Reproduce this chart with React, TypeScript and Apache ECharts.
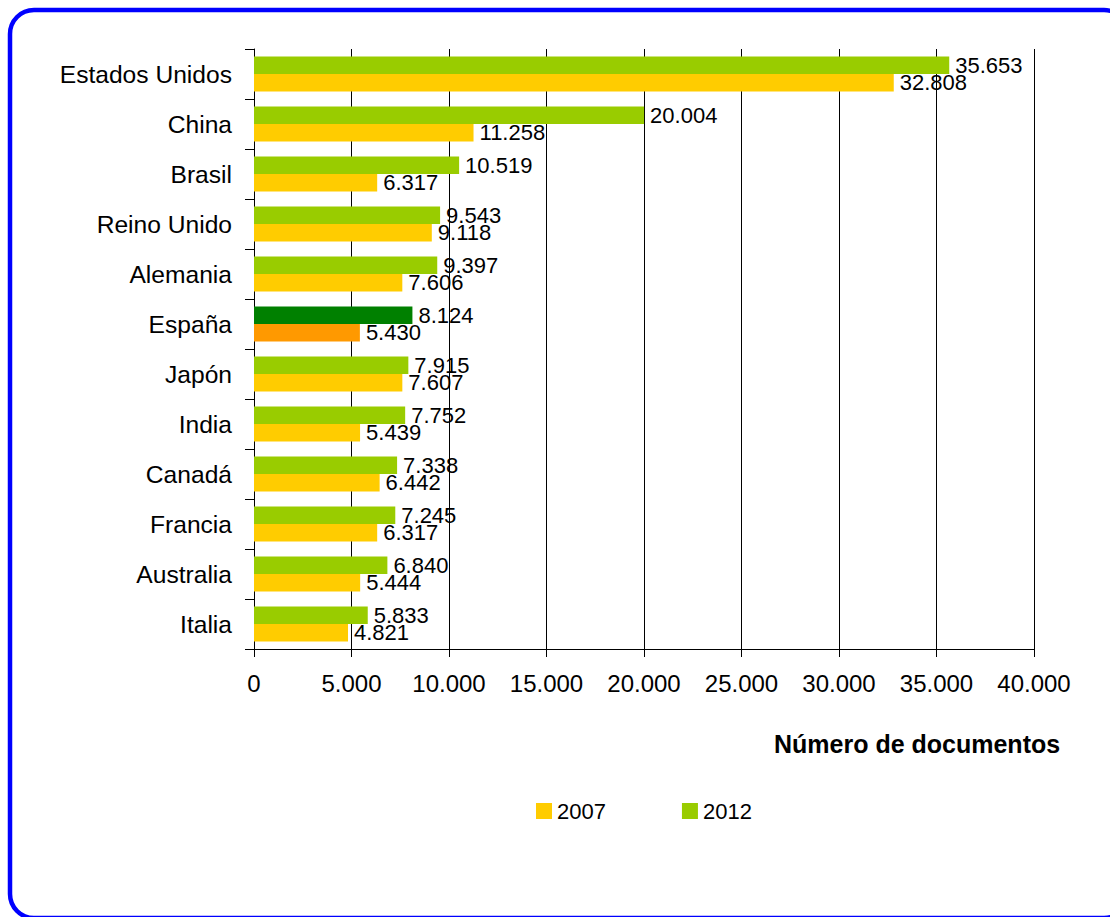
import React, { useEffect, useRef } from "react";
import * as echarts from "echarts";

const categories = [
  "Estados Unidos",
  "China",
  "Brasil",
  "Reino Unido",
  "Alemania",
  "España",
  "Japón",
  "India",
  "Canadá",
  "Francia",
  "Australia",
  "Italia",
];
const values2012 = [35653, 20004, 10519, 9543, 9397, 8124, 7915, 7752, 7338, 7245, 6840, 5833];
const values2007 = [32808, 11258, 6317, 9118, 7606, 5430, 7607, 5439, 6442, 6317, 5444, 4821];
const seriesNames = ["2007", "2012"];
const highlightCategory = "España";
const axisTitle = "Número de documentos";

const FONT = "'Liberation Sans', Arial, Helvetica, sans-serif";

const fmt = (v: number) => String(v).replace(/\B(?=(\d{3})+(?!\d))/g, ".");

export default function App() {
  const ref = useRef<HTMLDivElement>(null);
  useEffect(() => {
    document.body.style.margin = "0";
    if (!ref.current) return;
    const chart = echarts.init(ref.current, undefined, { renderer: "svg" });
    const hi = categories.indexOf(highlightCategory);
    const mk = (vals: number[], hiColor: string) =>
      vals.map((v, i) => (i === hi ? { value: v, itemStyle: { color: hiColor } } : v));
    const label = {
      show: true,
      position: "right",
      distance: 6,
      color: "#000",
      fontSize: 22,
      fontFamily: FONT,
      formatter: (p: any) => fmt(p.value),
    };
    chart.setOption({
      animation: false,
      backgroundColor: "#fff",
      textStyle: { fontFamily: FONT },
      title: {
        text: axisTitle,
        left: 774,
        top: 731,
        padding: 0,
        textStyle: { fontSize: 25, fontWeight: "bold", color: "#000", fontFamily: FONT },
      },
      legend: {
        data: seriesNames,
        left: 536,
        top: 800,
        padding: 0,
        icon: "rect",
        itemWidth: 16,
        itemHeight: 16,
        itemGap: 76,
        textStyle: { fontSize: 22, color: "#000", fontFamily: FONT },
      },
      grid: { left: 254, top: 49, right: 76, bottom: 268, containLabel: false },
      xAxis: {
        type: "value",
        min: 0,
        max: 40000,
        interval: 5000,
        axisLine: { show: true, lineStyle: { color: "#000", width: 1 } },
        axisTick: { show: true, length: 8, lineStyle: { color: "#000" } },
        splitLine: { show: true, lineStyle: { color: "#000", width: 1 } },
        axisLabel: {
          fontSize: 24,
          color: "#000",
          margin: 22,
          fontFamily: FONT,
          formatter: (v: number) => fmt(v),
        },
      },
      yAxis: {
        type: "category",
        data: categories,
        inverse: true,
        axisLine: { show: true, lineStyle: { color: "#000", width: 1 } },
        axisTick: { show: true, length: 9, lineStyle: { color: "#000" } },
        axisLabel: { fontSize: 24.6, color: "#000", margin: 22, fontFamily: FONT },
      },
      series: [
        {
          name: "2012",
          type: "bar",
          data: mk(values2012, "#008000"),
          barWidth: 17.5,
          barGap: "0%",
          itemStyle: { color: "#99CC00" },
          label,
        },
        {
          name: "2007",
          type: "bar",
          data: mk(values2007, "#FF9900"),
          barWidth: 17.5,
          barGap: "0%",
          itemStyle: { color: "#FFCC00" },
          label,
        },
      ],
      graphic: [
        {
          type: "rect",
          silent: true,
          z: 100,
          shape: { x: 10, y: 10, width: 1118, height: 908, r: 24 },
          style: { fill: "none", stroke: "#0000FF", lineWidth: 4.5 },
        },
      ],
    });
    return () => chart.dispose();
  }, []);
  return (
    <div
      ref={ref}
      style={{ position: "absolute", left: 0, top: 0, width: 1110, height: 917 }}
    />
  );
}
